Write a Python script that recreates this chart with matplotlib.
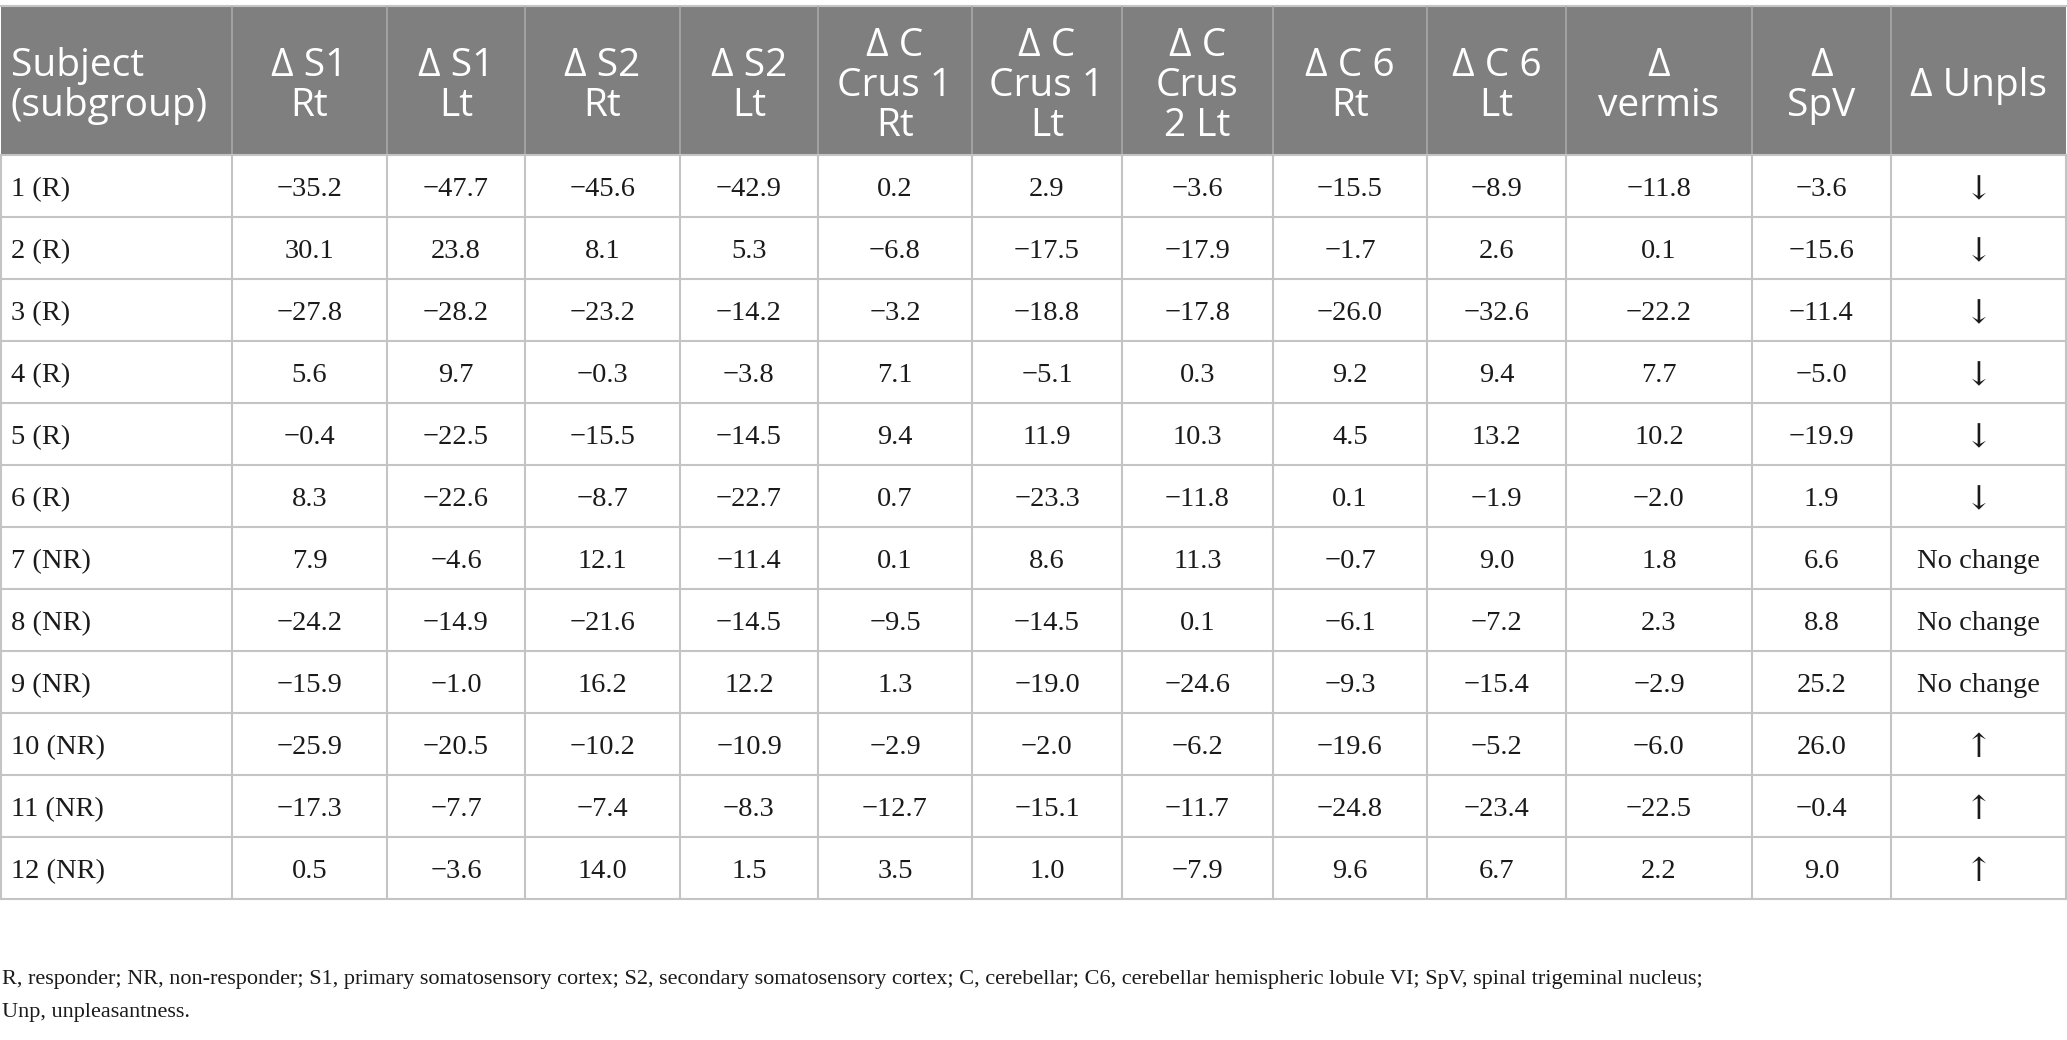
import matplotlib
matplotlib.use("Agg")
import matplotlib.pyplot as plt
from matplotlib.patches import Rectangle

# table data
subjects = ["1 (R)", "2 (R)", "3 (R)", "4 (R)", "5 (R)", "6 (R)",
            "7 (NR)", "8 (NR)", "9 (NR)", "10 (NR)", "11 (NR)", "12 (NR)"]
headers = ["Subject\n(subgroup)", "Δ S1\nRt", "Δ S1\nLt", "Δ S2\nRt", "Δ S2\nLt",
           "Δ C\nCrus 1\nRt", "Δ C\nCrus 1\nLt", "Δ C\nCrus\n2 Lt",
           "Δ C 6\nRt", "Δ C 6\nLt", "Δ\nvermis", "Δ\nSpV", "Δ Unpls"]
s1_rt = [-35.2, 30.1, -27.8, 5.6, -0.4, 8.3, 7.9, -24.2, -15.9, -25.9, -17.3, 0.5]
s1_lt = [-47.7, 23.8, -28.2, 9.7, -22.5, -22.6, -4.6, -14.9, -1.0, -20.5, -7.7, -3.6]
s2_rt = [-45.6, 8.1, -23.2, -0.3, -15.5, -8.7, 12.1, -21.6, 16.2, -10.2, -7.4, 14.0]
s2_lt = [-42.9, 5.3, -14.2, -3.8, -14.5, -22.7, -11.4, -14.5, 12.2, -10.9, -8.3, 1.5]
crus1_rt = [0.2, -6.8, -3.2, 7.1, 9.4, 0.7, 0.1, -9.5, 1.3, -2.9, -12.7, 3.5]
crus1_lt = [2.9, -17.5, -18.8, -5.1, 11.9, -23.3, 8.6, -14.5, -19.0, -2.0, -15.1, 1.0]
crus2_lt = [-3.6, -17.9, -17.8, 0.3, 10.3, -11.8, 11.3, 0.1, -24.6, -6.2, -11.7, -7.9]
c6_rt = [-15.5, -1.7, -26.0, 9.2, 4.5, 0.1, -0.7, -6.1, -9.3, -19.6, -24.8, 9.6]
c6_lt = [-8.9, 2.6, -32.6, 9.4, 13.2, -1.9, 9.0, -7.2, -15.4, -5.2, -23.4, 6.7]
vermis = [-11.8, 0.1, -22.2, 7.7, 10.2, -2.0, 1.8, 2.3, -2.9, -6.0, -22.5, 2.2]
spv = [-3.6, -15.6, -11.4, -5.0, -19.9, 1.9, 6.6, 8.8, 25.2, 26.0, -0.4, 9.0]
unpls = ["↓", "↓", "↓", "↓", "↓", "↓",
         "No change", "No change", "No change", "↑", "↑", "↑"]
footnote = ("R, responder; NR, non-responder; S1, primary somatosensory cortex; "
            "S2, secondary somatosensory cortex; C, cerebellar; C6, cerebellar "
            "hemispheric lobule VI; SpV, spinal trigeminal nucleus;\nUnp, unpleasantness.")

numeric_cols = [s1_rt, s1_lt, s2_rt, s2_lt, crus1_rt, crus1_lt, crus2_lt,
                c6_rt, c6_lt, vermis, spv]


def fmt(v):
    return f"{v:.1f}".replace("-", "\u2212")


W, H = 2067, 1040
fig = plt.figure(figsize=(W / 100, H / 100), dpi=100)
ax = fig.add_axes([0, 0, 1, 1])
ax.set_xlim(0, W)
ax.set_ylim(H, 0)
ax.axis("off")

col_edges = [1, 232, 387, 525, 680, 818, 972, 1122, 1273, 1427, 1566, 1752, 1891, 2066]
head_top, head_bot = 7, 155
row_h = 62.0
n_rows = len(subjects)
table_bot = head_bot + n_rows * row_h

header_gray = "#7f7f7f"
line_gray = "#c4c4c4"
txt_col = "#1a1a1a"
serif = ["Liberation Serif", "DejaVu Serif"]
sans = ["Open Sans", "DejaVu Sans"]

# header block
ax.add_patch(Rectangle((col_edges[0], head_top), col_edges[-1] - col_edges[0],
                       head_bot - head_top, facecolor=header_gray, edgecolor="none"))
ax.plot([col_edges[0], col_edges[-1]], [head_top - 1, head_top - 1], color=line_gray, lw=1.5)
for x in col_edges[1:-1]:
    ax.plot([x, x], [head_top, head_bot], color="#a8a8a8", lw=1.2)

hy = (head_top + head_bot) / 2 + 5
for i, text in enumerate(headers):
    x0, x1 = col_edges[i], col_edges[i + 1]
    if i == 0:
        ax.text(x0 + 10, hy, text, ha="left", va="center",
                color="white", fontsize=28, family=sans, linespacing=1.08)
    else:
        ax.text((x0 + x1) / 2, hy, text, ha="center", va="center",
                color="white", fontsize=28, family=sans, linespacing=1.08)

# body grid
for r in range(n_rows + 1):
    y = head_bot + r * row_h
    ax.plot([col_edges[0], col_edges[-1]], [y, y], color=line_gray, lw=1.5)
for x in col_edges:
    ax.plot([x, x], [head_bot, table_bot], color=line_gray, lw=1.5)

# body text
for r in range(n_rows):
    yc = head_bot + (r + 0.5) * row_h + 4
    ax.text(col_edges[0] + 10, yc, subjects[r], ha="left", va="center",
            fontsize=20.5, family=serif, color=txt_col)
    for c, col in enumerate(numeric_cols):
        xc = (col_edges[c + 1] + col_edges[c + 2]) / 2
        ax.text(xc, yc, fmt(col[r]), ha="center", va="center",
                fontsize=20.5, family=serif, color=txt_col)
    xc = (col_edges[-2] + col_edges[-1]) / 2
    if unpls[r] in ("↓", "↑"):
        ax.text(xc, yc, unpls[r], ha="center", va="center",
                fontsize=24, family=["DejaVu Serif"], color=txt_col)
    else:
        ax.text(xc, yc, unpls[r], ha="center", va="center",
                fontsize=20.5, family=serif, color=txt_col)

ax.text(2, 970, footnote, ha="left", va="top", fontsize=16, family=serif,
        color=txt_col, linespacing=2.0)

fig.savefig("out.png", dpi=100, facecolor="white")
